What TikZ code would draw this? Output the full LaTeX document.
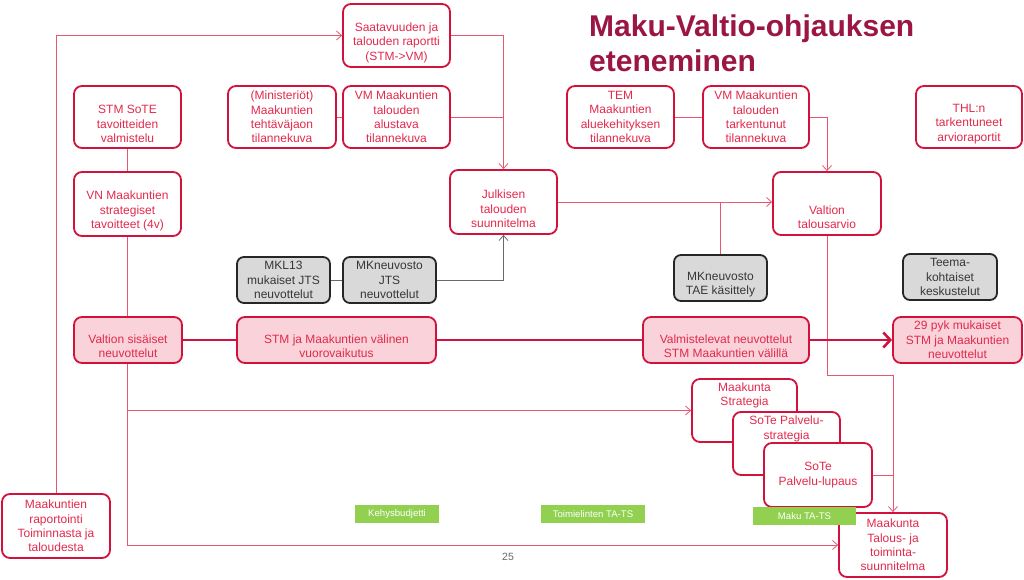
\documentclass[tikz,border=0pt]{standalone}
\usepackage{fontspec}
\setmainfont{Liberation Sans}
\usetikzlibrary{arrows.meta}
\definecolor{bred}{RGB}{210,18,60}
\definecolor{tred}{RGB}{226,42,76}
\definecolor{lred}{RGB}{234,85,110}
\definecolor{pinkf}{RGB}{249,210,218}
\definecolor{grayf}{RGB}{217,217,217}
\definecolor{grayb}{RGB}{38,38,38}
\definecolor{grayt}{RGB}{55,55,55}
\definecolor{grayl}{RGB}{105,105,105}
\definecolor{titlec}{RGB}{155,22,68}
\definecolor{greenf}{RGB}{146,208,80}
\pgfdeclarelayer{back}
\pgfdeclarelayer{lines}
\pgfsetlayers{back,lines,main}
\tikzset{
 redbox/.style={draw=bred, line width=1.8pt, rounded corners=8pt, fill=white, inner sep=0pt},
 pinkbox/.style={redbox, fill=pinkf},
 graybox/.style={draw=grayb, line width=1.8pt, rounded corners=7pt, fill=grayf, inner sep=0pt},
 greenbar/.style={fill=greenf, inner sep=0pt, text=white, font=\fontsize{9.6}{11}\selectfont},
 txt/.style={align=center, inner sep=0pt, text=tred, font=\fontsize{12}{14.4}\selectfont},
 gtxt/.style={txt, text=grayt},
 conn/.style={draw=lred, line width=0.8pt},
 gconn/.style={draw=grayl, line width=0.8pt},
 arr/.style={-{Straight Barb[length=5pt,width=9pt]}},
 band/.style={draw=bred, line width=2.6pt},
 bandarr/.style={-{Straight Barb[length=7pt,width=15pt]}},
}
\newcommand\mybox[9]{%
 \node[#2, minimum width={#5-#3}, minimum height={#6-#4}] (#1) at ({(#3+#5)/2},{(#4+#6)/2}) {};
 \node[#7] (#1t) at ([yshift={-(#8)}]#1.center) {#9};
}
\begin{document}
\begin{tikzpicture}[x=1pt,y=-1pt]
\useasboundingbox (0,0) rectangle (1024,580);
\begin{pgfonlayer}{back}
\fill[white] (0,0) rectangle (1024,580);
\end{pgfonlayer}

% title
\node[anchor=base west, inner sep=0pt, text=titlec, font=\fontsize{30}{35}\selectfont\bfseries] (title1) at (589,37) {Maku-Valtio-ohjauksen};
\node[anchor=base west, inner sep=0pt, text=titlec, font=\fontsize{30}{35}\selectfont\bfseries] (title2) at (589,72) {eteneminen};

% boxes
\mybox{sat}{redbox}{343}{4}{450}{67}{txt}{7}{Saatavuuden ja\\talouden raportti\\(STM->VM)}
\mybox{stm}{redbox}{74}{86}{181}{148}{txt}{7}{STM SoTE\\tavoitteiden\\valmistelu}
\mybox{min}{redbox}{228}{86}{336}{148}{txt}{0}{(Ministeriöt)\\Maakuntien\\tehtäväjaon\\tilannekuva}
\mybox{vma}{redbox}{343}{86}{450}{148}{txt}{0}{VM Maakuntien\\talouden\\alustava\\tilannekuva}
\mybox{vn}{redbox}{74}{172}{181}{236}{txt}{7}{VN Maakuntien\\strategiset\\tavoitteet (4v)}
\mybox{jts}{redbox}{450}{170}{557}{234}{txt}{7}{Julkisen\\talouden\\suunnitelma}
\mybox{val}{redbox}{773}{172}{881}{235}{txt}{13.5}{Valtion\\talousarvio}
\mybox{tem}{redbox}{567}{86}{674}{148}{txt}{0}{TEM\\Maakuntien\\aluekehityksen\\tilannekuva}
\mybox{vmt}{redbox}{703}{86}{809}{148}{txt}{0}{VM Maakuntien\\talouden\\tarkentunut\\tilannekuva}
\mybox{thl}{redbox}{916}{86}{1022}{148}{txt}{7}{THL:n\\tarkentuneet\\arvioraportit}
\mybox{mkl}{graybox}{237}{257}{330}{303}{gtxt}{0}{MKL13\\mukaiset JTS\\neuvottelut}
\mybox{mkj}{graybox}{343}{257}{436}{303}{gtxt}{0}{MKneuvosto\\JTS\\neuvottelut}
\mybox{tae}{graybox}{674}{255}{767}{301}{gtxt}{6.5}{MKneuvosto\\TAE käsittely}
\mybox{teema}{graybox}{903}{254}{997}{300}{gtxt}{0}{Teema-\\kohtaiset\\keskustelut}
\mybox{vs}{pinkbox}{74}{317}{182}{363}{txt}{6}{Valtion sisäiset\\neuvottelut}
\mybox{stmja}{pinkbox}{237}{317}{436}{363}{txt}{6}{STM ja Maakuntien välinen\\vuorovaikutus}
\mybox{valm}{pinkbox}{643}{317}{809}{363}{txt}{6}{Valmistelevat neuvottelut\\STM Maakuntien välillä}
\mybox{pyk}{pinkbox}{893}{317}{1022}{363}{txt}{0}{29 pyk mukaiset\\STM ja Maakuntien\\neuvottelut}
\mybox{strat}{redbox}{692}{379}{797}{442}{txt}{-15}{Maakunta\\Strategia}
\mybox{pstrat}{redbox}{733}{412}{840}{475}{txt}{-14.5}{SoTe Palvelu-\\strategia}
\mybox{lupaus}{redbox}{764}{443}{872}{507}{txt}{0}{SoTe\\Palvelu-lupaus}
\mybox{talous}{redbox}{839}{513}{947}{577}{txt}{0}{Maakunta\\Talous- ja\\toiminta-\\suunnitelma}
\mybox{rap}{redbox}{2}{494}{110}{558}{txt}{0}{Maakuntien\\raportointi\\Toiminnasta ja\\taloudesta}

% green bars
\node[greenbar, minimum width=84, minimum height=18] (keh) at (397,514) {Kehysbudjetti};
\node[greenbar, minimum width=104, minimum height=18] (toim) at (593,514) {Toimielinten TA-TS};
\node[greenbar, minimum width=103, minimum height=18] (makuts) at (804.5,516) {Maku TA-TS};

% page number
\node[inner sep=0pt, text=grayl, font=\fontsize{10.5}{12}\selectfont] (pnum) at (508,557) {25};

% thin connectors
\begin{pgfonlayer}{lines}
\draw[conn,arr] (rap.north) |- (sat.west);
\draw[conn,arr] (sat.east) -| (jts.north);
\draw[conn] (vma.east) -- (vma.east -| jts.north);
\draw[conn] (min.east) -- (vma.west);
\draw[conn] (stm.south) -- (vn.north);
\draw[conn,arr] (vn.south) |- (talous.west);
\draw[conn,arr] (vn.south |- strat.west) -- (strat.west);
\draw[gconn] (mkl.east) -- (mkj.west);
\draw[gconn,arr] (mkj.east) -| (jts.south);
\draw[conn,arr] (jts.east) -- (jts.east -| val.west);
\draw[conn] (tae.north) -- (tae.north |- jts.east);
\draw[conn] (tem.east) -- (vmt.west);
\draw[conn,arr] (vmt.east) -| (val.north);
\draw[conn,arr] (val.south) -- ++(0,139) -| (talous.north);
\draw[conn] (lupaus.east) -- (lupaus.east -| talous.north);
\end{pgfonlayer}

% thick band
\draw[band] (vs.east) -- (vs.east -| stmja.west);
\draw[band] (stmja.east) -- (stmja.east -| valm.west);
\draw[band,bandarr] (valm.east) -- (valm.east -| pyk.west);
\end{tikzpicture}
\end{document}
